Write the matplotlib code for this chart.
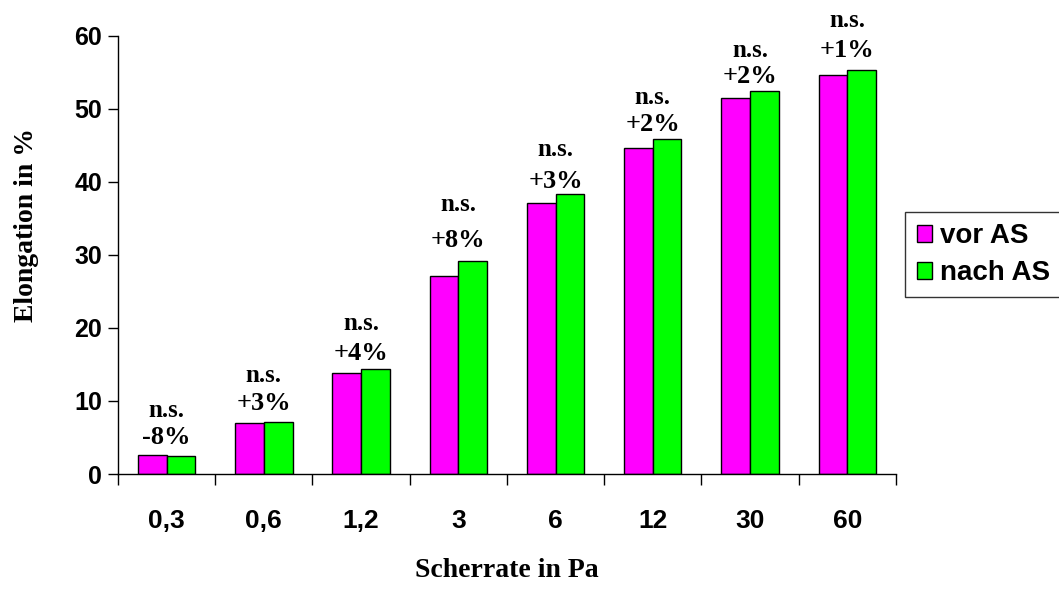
import numpy as np
import matplotlib.pyplot as plt

categories = ['0,3', '0,6', '1,2', '3', '6', '12', '30', '60']
vor_as = [2.6, 7.0, 13.8, 27.1, 37.1, 44.6, 51.5, 54.6]
nach_as = [2.4, 7.1, 14.4, 29.2, 38.3, 45.8, 52.4, 55.3]
change = ['-8%', '+3%', '+4%', '+8%', '+3%', '+2%', '+2%', '+1%']
signif = ['n.s.'] * 8
yticks = [0, 10, 20, 30, 40, 50, 60]

sans = ['Liberation Sans', 'DejaVu Sans']
serif = ['Liberation Serif', 'DejaVu Serif']

fig = plt.figure(figsize=(10.59, 5.94), dpi=100)
ax = fig.add_axes([0.1114, 0.202, 0.7346, 0.738])

x = np.arange(len(categories))
w = 0.295
ax.bar(x - w / 2, vor_as, w, color='#FF00FF', edgecolor='black', linewidth=1, label='vor AS')
ax.bar(x + w / 2, nach_as, w, color='#00FF00', edgecolor='black', linewidth=1, label='nach AS')

# percent change + significance above each pair (offsets in points)
pct_off = [4.3, 5, 3, 6.4, 1, 2.3, 2.3, 5.7]
ns_gap = [19.5, 20, 21, 26, 23, 19.5, 19, 21.5]
for i in range(len(categories)):
    top = max(vor_as[i], nach_as[i])
    ax.annotate(change[i], (x[i], top), xytext=(0, pct_off[i]), textcoords='offset points',
                ha='center', va='bottom', fontsize=19, fontweight='bold', family=serif)
    ax.annotate(signif[i], (x[i], top), xytext=(0, pct_off[i] + ns_gap[i]), textcoords='offset points',
                ha='center', va='bottom', fontsize=18, fontweight='bold', family=serif,
                annotation_clip=False)

ax.set_xlim(-0.5, len(categories) - 0.5)
ax.set_ylim(0, 60)
ax.set_yticks(yticks)
ax.set_yticklabels([str(v) for v in yticks], fontsize=18, fontweight='bold', family=sans)
ax.set_xticks(x)
ax.set_xticklabels(categories, fontsize=19, fontweight='bold', family=sans)
ax.tick_params(axis='x', which='major', length=0, pad=25)
ax.set_xticks(np.arange(len(categories) + 1) - 0.5, minor=True)
ax.tick_params(axis='x', which='minor', length=8, direction='out', width=1)
ax.tick_params(axis='y', length=7.5, direction='out', width=1, pad=4)

for s in ['top', 'right']:
    ax.spines[s].set_visible(False)
for s in ['left', 'bottom']:
    ax.spines[s].set_linewidth(1)

ax.set_xlabel('Scherrate in Pa', fontsize=20, fontweight='bold', family=serif, labelpad=18)
ax.set_ylabel('Elongation in %', fontsize=20, fontweight='bold', family=serif)
ax.yaxis.set_label_coords(-0.101, 0.568)

leg = ax.legend(loc='center left', bbox_to_anchor=(0.855, 0.571), bbox_transform=fig.transFigure,
                prop={'family': sans, 'weight': 'bold', 'size': 20}, frameon=True, fancybox=False,
                edgecolor='black', handlelength=0.55, handleheight=0.55, handletextpad=0.3,
                borderpad=0.4, labelspacing=0.4, borderaxespad=0)
leg.get_frame().set_linewidth(1)

fig.savefig('out.png', dpi=100)
